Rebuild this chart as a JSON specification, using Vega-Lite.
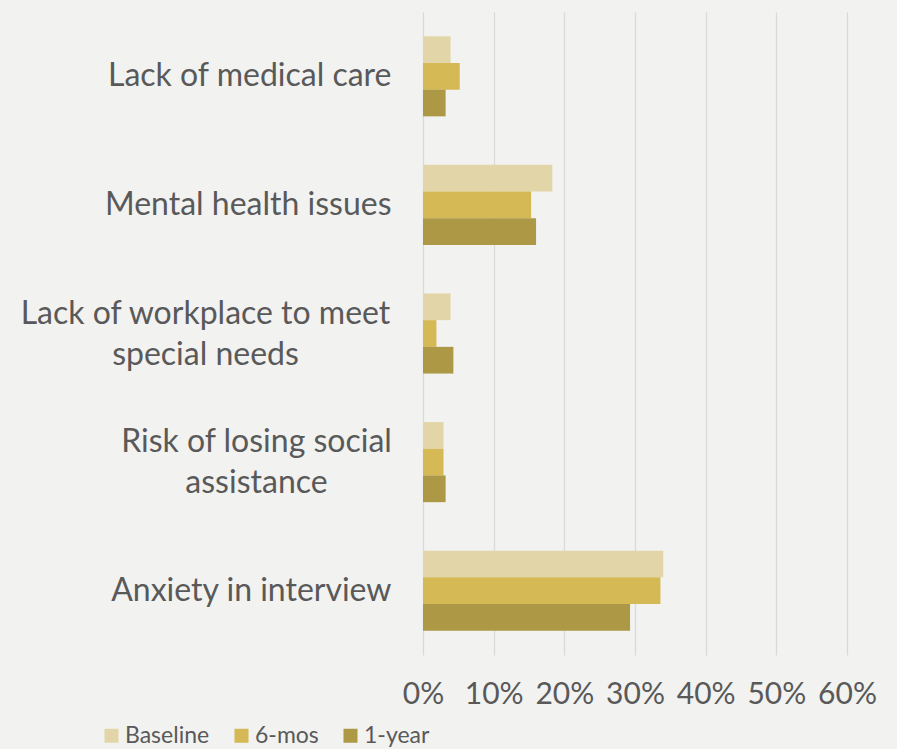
{
  "$schema": "https://vega.github.io/schema/vega-lite/v6.json",
  "width": 424,
  "height": 643,
  "autosize": "none",
  "padding": {"left": 423, "top": 12, "right": 50, "bottom": 94},
  "background": "#f2f2f1",
  "config": {
    "view": {"stroke": null},
    "font": "Lato",
    "axis": {"labelFont": "Lato", "labelColor": "#595959"},
    "legend": {"labelFont": "Lato", "labelColor": "#595959"}
  },
  "data": {
    "values": [
      {"reason": "Lack of medical care", "period": "Baseline", "pct": 0.039},
      {"reason": "Lack of medical care", "period": "6-mos", "pct": 0.052},
      {"reason": "Lack of medical care", "period": "1-year", "pct": 0.032},
      {"reason": "Mental health issues", "period": "Baseline", "pct": 0.183},
      {"reason": "Mental health issues", "period": "6-mos", "pct": 0.153},
      {"reason": "Mental health issues", "period": "1-year", "pct": 0.160},
      {"reason": "Lack of workplace to meet special needs", "period": "Baseline", "pct": 0.039},
      {"reason": "Lack of workplace to meet special needs", "period": "6-mos", "pct": 0.019},
      {"reason": "Lack of workplace to meet special needs", "period": "1-year", "pct": 0.043},
      {"reason": "Risk of losing social assistance", "period": "Baseline", "pct": 0.029},
      {"reason": "Risk of losing social assistance", "period": "6-mos", "pct": 0.029},
      {"reason": "Risk of losing social assistance", "period": "1-year", "pct": 0.032},
      {"reason": "Anxiety in interview", "period": "Baseline", "pct": 0.340},
      {"reason": "Anxiety in interview", "period": "6-mos", "pct": 0.336},
      {"reason": "Anxiety in interview", "period": "1-year", "pct": 0.293}
    ]
  },
  "mark": {"type": "bar"},
  "encoding": {
    "y": {
      "field": "reason",
      "type": "nominal",
      "sort": ["Lack of medical care", "Mental health issues", "Lack of workplace to meet special needs", "Risk of losing social assistance", "Anxiety in interview"],
      "scale": {"paddingInner": 0.377, "paddingOuter": 0.1885},
      "axis": {
        "title": null,
        "ticks": false,
        "domain": false,
        "labelFontSize": 32,
        "labelLineHeight": 41,
        "labelLimit": 500,
        "labelExpr": "datum.value == 'Lack of workplace to meet special needs' ? ['Lack of workplace to meet', 'special needs'] : datum.value == 'Risk of losing social assistance' ? ['Risk of losing social', 'assistance'] : datum.value",
        "labelAlign": {
          "condition": {"test": "datum.value == 'Lack of workplace to meet special needs' || datum.value == 'Risk of losing social assistance'", "value": "center"},
          "value": "right"
        },
        "labelPadding": {
          "condition": [
            {"test": "datum.value == 'Lack of workplace to meet special needs'", "value": 218},
            {"test": "datum.value == 'Risk of losing social assistance'", "value": 167}
          ],
          "value": 32
        },
        "labelOffset": {
          "condition": {"test": "datum.value == 'Lack of workplace to meet special needs' || datum.value == 'Risk of losing social assistance'", "value": -20},
          "value": 0
        }
      }
    },
    "yOffset": {
      "field": "period",
      "type": "nominal",
      "sort": ["Baseline", "6-mos", "1-year"],
      "scale": {"paddingInner": 0, "paddingOuter": 0}
    },
    "x": {
      "field": "pct",
      "type": "quantitative",
      "scale": {"domain": [0, 0.6], "nice": false},
      "axis": {
        "title": null,
        "format": ".0%",
        "values": [0, 0.1, 0.2, 0.3, 0.4, 0.5, 0.6],
        "ticks": false,
        "domain": false,
        "grid": true,
        "gridColor": "#d9d9d9",
        "gridWidth": 1.3,
        "labelFontSize": 30,
        "labelPadding": 24,
        "labelFlush": false
      }
    },
    "color": {
      "field": "period",
      "type": "nominal",
      "sort": ["Baseline", "6-mos", "1-year"],
      "scale": {"domain": ["Baseline", "6-mos", "1-year"], "range": ["#e2d6a9", "#d4b955", "#ad9945"]},
      "legend": {
        "title": null,
        "orient": "none",
        "direction": "horizontal",
        "legendX": -323,
        "legendY": 712,
        "padding": 0,
        "symbolType": "square",
        "symbolSize": 196,
        "symbolStrokeWidth": 0,
        "labelFontSize": 23,
        "labelOffset": 2,
        "columnPadding": 20
      }
    }
  }
}
